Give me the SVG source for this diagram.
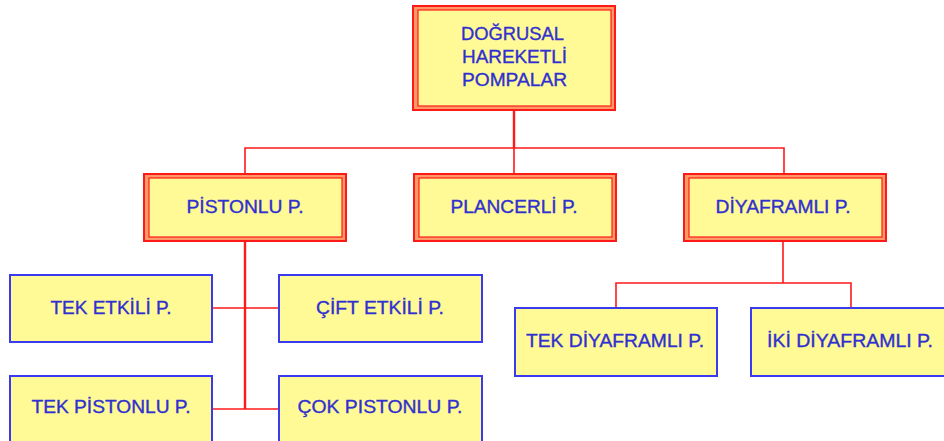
<svg xmlns="http://www.w3.org/2000/svg" width="944" height="441" viewBox="0 0 944 441">
  <style>
    .frame-out { fill: #FF9966; stroke: #FF1A1A; stroke-width: 2; }
    .frame-in { fill: #FFFA96; stroke: #FF1A1A; stroke-width: 1.2; }
    .leaf { fill: #FFFA96; stroke: #3A3AF0; stroke-width: 2; }
    .lbl { font-family: "Liberation Sans", Arial, sans-serif; font-size: 18.5px; fill: #3030D0; stroke: #3030D0; stroke-width: 0.35; }
    .mid { text-anchor: middle; }
    .wire { stroke: #FF1A1A; stroke-width: 1.6; fill: none; }
    .trunk { stroke: #FF1A1A; stroke-width: 2.4; fill: none; }
  </style>

  <!-- connectors -->
  <g id="connectors">
    <path class="trunk" d="M514,110 V148"/>
    <path class="wire" d="M245,174 V148 H784 V174 M514,148 V174"/>
    <path class="trunk" d="M245,241 V409"/>
    <path class="wire" d="M212,308 H279 M212,409 H279"/>
    <path class="wire" d="M783,241 V283 M616,308 V283 H851 V308"/>
  </g>

  <!-- root -->
  <g id="n-root">
    <rect class="frame-out" x="413" y="6" width="202" height="104"/>
    <rect class="frame-in" x="418" y="10" width="193" height="96"/>
    <text class="lbl" x="461" y="40" textLength="103" lengthAdjust="spacingAndGlyphs">DOĞRUSAL</text>
    <text class="lbl" x="462" y="63" textLength="105" lengthAdjust="spacingAndGlyphs">HAREKETLİ</text>
    <text class="lbl" x="462" y="86" textLength="105" lengthAdjust="spacingAndGlyphs">POMPALAR</text>
  </g>

  <!-- second level -->
  <g id="n-pistonlu">
    <rect class="frame-out" x="144" y="174" width="202" height="67"/>
    <rect class="frame-in" x="149" y="178" width="193" height="59"/>
    <text class="lbl mid" x="245" y="213" textLength="117" lengthAdjust="spacingAndGlyphs">PİSTONLU P.</text>
  </g>
  <g id="n-plancerli">
    <rect class="frame-out" x="414" y="174" width="202" height="67"/>
    <rect class="frame-in" x="419" y="178" width="193" height="59"/>
    <text class="lbl mid" x="514" y="213" textLength="127" lengthAdjust="spacingAndGlyphs">PLANCERLİ P.</text>
  </g>
  <g id="n-diyaframli">
    <rect class="frame-out" x="684" y="174" width="202" height="67"/>
    <rect class="frame-in" x="689" y="178" width="193" height="59"/>
    <text class="lbl mid" x="783" y="213" textLength="135" lengthAdjust="spacingAndGlyphs">DİYAFRAMLI P.</text>
  </g>

  <!-- piston pump types -->
  <g id="n-tek-etkili">
    <rect class="leaf" x="10" y="275" width="202" height="67"/>
    <text class="lbl mid" x="111" y="314" textLength="121" lengthAdjust="spacingAndGlyphs">TEK ETKİLİ P.</text>
  </g>
  <g id="n-cift-etkili">
    <rect class="leaf" x="279" y="275" width="203" height="67"/>
    <text class="lbl mid" x="380" y="314" textLength="128" lengthAdjust="spacingAndGlyphs">ÇİFT ETKİLİ P.</text>
  </g>
  <g id="n-tek-pistonlu">
    <rect class="leaf" x="10" y="376" width="202" height="70"/>
    <text class="lbl mid" x="111" y="413" textLength="159" lengthAdjust="spacingAndGlyphs">TEK PİSTONLU P.</text>
  </g>
  <g id="n-cok-pistonlu">
    <rect class="leaf" x="279" y="376" width="203" height="70"/>
    <text class="lbl mid" x="380" y="413" textLength="165" lengthAdjust="spacingAndGlyphs">ÇOK PISTONLU P.</text>
  </g>

  <!-- diaphragm pump types -->
  <g id="n-tek-diyaframli">
    <rect class="leaf" x="515" y="308" width="202" height="68"/>
    <text class="lbl mid" x="615" y="347" textLength="178" lengthAdjust="spacingAndGlyphs">TEK DİYAFRAMLI P.</text>
  </g>
  <g id="n-iki-diyaframli">
    <rect class="leaf" x="751" y="308" width="202" height="68"/>
    <text class="lbl mid" x="850" y="347" textLength="166" lengthAdjust="spacingAndGlyphs">İKİ DİYAFRAMLI P.</text>
  </g>
</svg>
